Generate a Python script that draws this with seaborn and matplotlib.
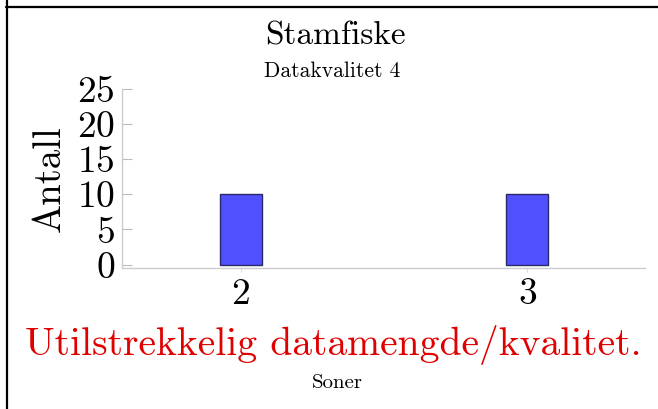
import matplotlib
matplotlib.use("Agg")
import matplotlib.pyplot as plt
import seaborn as sns
from matplotlib.lines import Line2D

# data
soner = ["2", "3"]
antall = [10, 10]
yticks = [0, 5, 10, 15, 20, 25]

sns.set_style("white")
plt.rcParams['font.family'] = ['cmr10', 'DejaVu Serif']
plt.rcParams['axes.formatter.use_mathtext'] = True
plt.rcParams['text.color'] = 'black'
plt.rcParams['axes.labelcolor'] = 'black'
plt.rcParams['xtick.labelcolor'] = 'black'
plt.rcParams['ytick.labelcolor'] = 'black'

fig = plt.figure(figsize=(6.58, 4.09), dpi=100)
ax = fig.add_axes([0.1854, 0.3447, 0.7946, 0.4377])

sns.barplot(x=soner, y=antall, color="#5050ff", saturation=1, width=0.147,
            edgecolor="#2a2a66", linewidth=1, ax=ax)

ax.set_xlim(-0.415, 1.41)
ax.set_ylim(-0.5, 25)
ax.set_yticks(yticks)
ax.set_xlabel("")
ax.set_ylabel("Antall", fontsize=28)
ax.yaxis.set_label_coords(-0.103, 0.5)

for side in ["top", "right"]:
    ax.spines[side].set_visible(False)
for side in ["left", "bottom"]:
    ax.spines[side].set_color("#cccccc")
    ax.spines[side].set_linewidth(1)

ax.tick_params(axis="y", direction="in", length=7, width=0.8, color="#bbbbbb",
               labelsize=27, pad=5, left=True)
ax.tick_params(axis="x", direction="out", length=3, width=0.8, color="#dddddd",
               labelsize=27, pad=4, bottom=True)

fig.text(0.51, 0.890, "Stamfiske", ha="center", va="baseline", fontsize=24)
fig.text(0.505, 0.812, "Datakvalitet 4", ha="center", va="baseline", fontsize=15.5)
fig.text(0.507, 0.132, "Utilstrekkelig datamengde/kvalitet.", ha="center",
         va="baseline", fontsize=28.5, color="#e00000")
fig.text(0.512, 0.051, "Soner", ha="center", va="baseline", fontsize=15)

# frame lines around the figure
fig.add_artist(Line2D([0.009, 1.0], [0.983, 0.983], transform=fig.transFigure,
                      color="black", linewidth=1.6))
fig.add_artist(Line2D([0.011, 0.011], [0.0, 1.0], transform=fig.transFigure,
                      color="black", linewidth=1.6))

fig.savefig("out.png", dpi=100)
